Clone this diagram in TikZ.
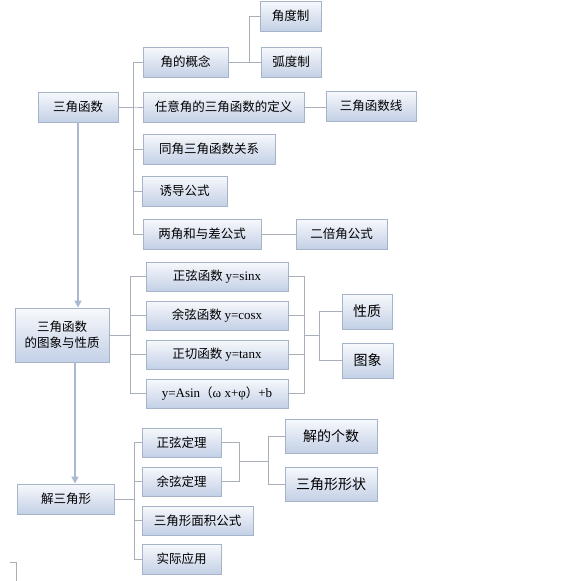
\documentclass[tikz,border=0pt]{standalone}
\usepackage{fontspec}
\setmainfont{Liberation Serif}
\newfontfamily\cjk{Noto Sans CJK SC}
\usetikzlibrary{arrows.meta,calc}
\definecolor{Edge}{HTML}{A6B4CA}
\definecolor{BoxTop}{HTML}{F7F9FC}
\definecolor{BoxBot}{HTML}{C3D0E6}
\definecolor{Wire}{HTML}{A9AFB8}
\definecolor{ArrowBlue}{HTML}{A9B8D3}
\newcommand{\lat}[1]{{\rmfamily\fontsize{13}{16}\selectfont #1}}
\tikzset{
  box/.style={
    draw=Edge, line width=0.9pt, top color=BoxTop, bottom color=BoxBot,
    inner sep=0pt, align=center, text=black,
    font=\cjk\fontsize{12.5}{16}\selectfont
  },
  bigbox/.style={box, font=\cjk\fontsize{14}{17}\selectfont},
  link/.style={draw=Wire, line width=1pt},
  down/.style={-{Triangle[length=7pt,width=7pt]}, draw=ArrowBlue, line width=1.5pt}
}

\begin{document}
\begin{tikzpicture}[x=1pt,y=-1pt]
        \useasboundingbox (0,0) rectangle (575,581);
        % first block
        \node[box,minimum width=80,minimum height=30] (trig) at (78,107) {三角函数};
        \node[box,minimum width=85,minimum height=30] (angle) at (185.5,62) {角的概念};
        \node[box,minimum width=61,minimum height=30] (deg) at (290.5,16) {角度制};
        \node[box,minimum width=60,minimum height=30] (rad) at (291,62) {弧度制};
        \node[box,minimum width=161,minimum height=30] (defn) at (223.5,107) {任意角的三角函数的定义};
        \node[box,minimum width=90,minimum height=30] (tline) at (371,106) {三角函数线};
        \node[box,minimum width=132,minimum height=30] (same) at (209,149) {同角三角函数关系};
        \node[box,minimum width=85,minimum height=30] (induce) at (184.5,191) {诱导公式};
        \node[box,minimum width=118,minimum height=30] (sumdiff) at (202,234) {两角和与差公式};
        \node[box,minimum width=91,minimum height=30] (dbl) at (341.5,234) {二倍角公式};
        \foreach \kid in {angle,defn,same,induce,sumdiff}
          \draw[link] (trig.east) -- ++(15,0) |- (\kid.west);
        \draw[link] (angle.east) -- ++(21,0) |- (deg.west);
        \draw[link] (angle.east) -- (rad.west);
        \draw[link] (defn.east) -- (defn.east -| tline.west);
        \draw[link] (sumdiff.east) -- (dbl.west);

        % second block
        \node[box,minimum width=94,minimum height=54] (graph) at (62,335) {三角函数\\的图象与性质};
        \node[box,minimum width=142,minimum height=29] (fsin) at (217,276.5) {正弦函数 \lat{y=sinx}};
        \node[box,minimum width=142,minimum height=29] (fcos) at (217,315.5) {余弦函数 \lat{y=cosx}};
        \node[box,minimum width=142,minimum height=29] (ftan) at (217,354.5) {正切函数 \lat{y=tanx}};
        \node[box,minimum width=142,minimum height=29] (fgen) at (217,393.5) {\lat{y=Asin}（\lat{ω x+φ}）\lat{+b}};
        \node[bigbox,minimum width=50,minimum height=35] (prop) at (367,311.5) {性质};
        \node[bigbox,minimum width=51,minimum height=35] (pict) at (367.5,360.5) {图象};
        \coordinate (fjoin) at (304,335);
        \foreach \kid in {fsin,fcos,ftan,fgen}{
          \draw[link] (graph.east) -- ++(21,0) |- (\kid.west);
          \draw[link] (\kid.east) -| (fjoin);
        }
        \draw[link] (fjoin) -- ++(15,0) |- (prop.west);
        \draw[link] (fjoin) -- ++(15,0) |- (pict.west);

        % third block
        \node[box,minimum width=97,minimum height=30] (solve) at (66,499) {解三角形};
        \node[box,minimum width=79,minimum height=29] (sinlaw) at (181.5,442.5) {正弦定理};
        \node[box,minimum width=79,minimum height=29] (coslaw) at (181.5,481.5) {余弦定理};
        \node[box,minimum width=111,minimum height=29] (area) at (197.5,520.5) {三角形面积公式};
        \node[box,minimum width=79,minimum height=30] (apply) at (181.5,559) {实际应用};
        \node[bigbox,minimum width=92,minimum height=34] (count) at (331,436) {解的个数};
        \node[bigbox,minimum width=92,minimum height=34] (shape) at (331,484) {三角形形状};
        \coordinate (ljoin) at (239,461);
        \foreach \kid in {sinlaw,coslaw,area,apply}
          \draw[link] (solve.east) -- ++(20,0) |- (\kid.west);
        \draw[link] (sinlaw.east) -| (ljoin);
        \draw[link] (coslaw.east) -| (ljoin);
        \draw[link] (ljoin) -- ++(29,0) |- (count.west);
        \draw[link] (ljoin) -- ++(29,0) |- (shape.west);

        % arrows between blocks
        \draw[down] (trig.south) -- (trig.south |- graph.north);
        \coordinate (gout) at (75,362);
        \draw[down] (gout) -- (gout |- solve.north);

        % cut-off edge at the bottom
        \draw[link] (10,562) -- (16,562) -- (16,581);
      \end{tikzpicture}
\end{document}
